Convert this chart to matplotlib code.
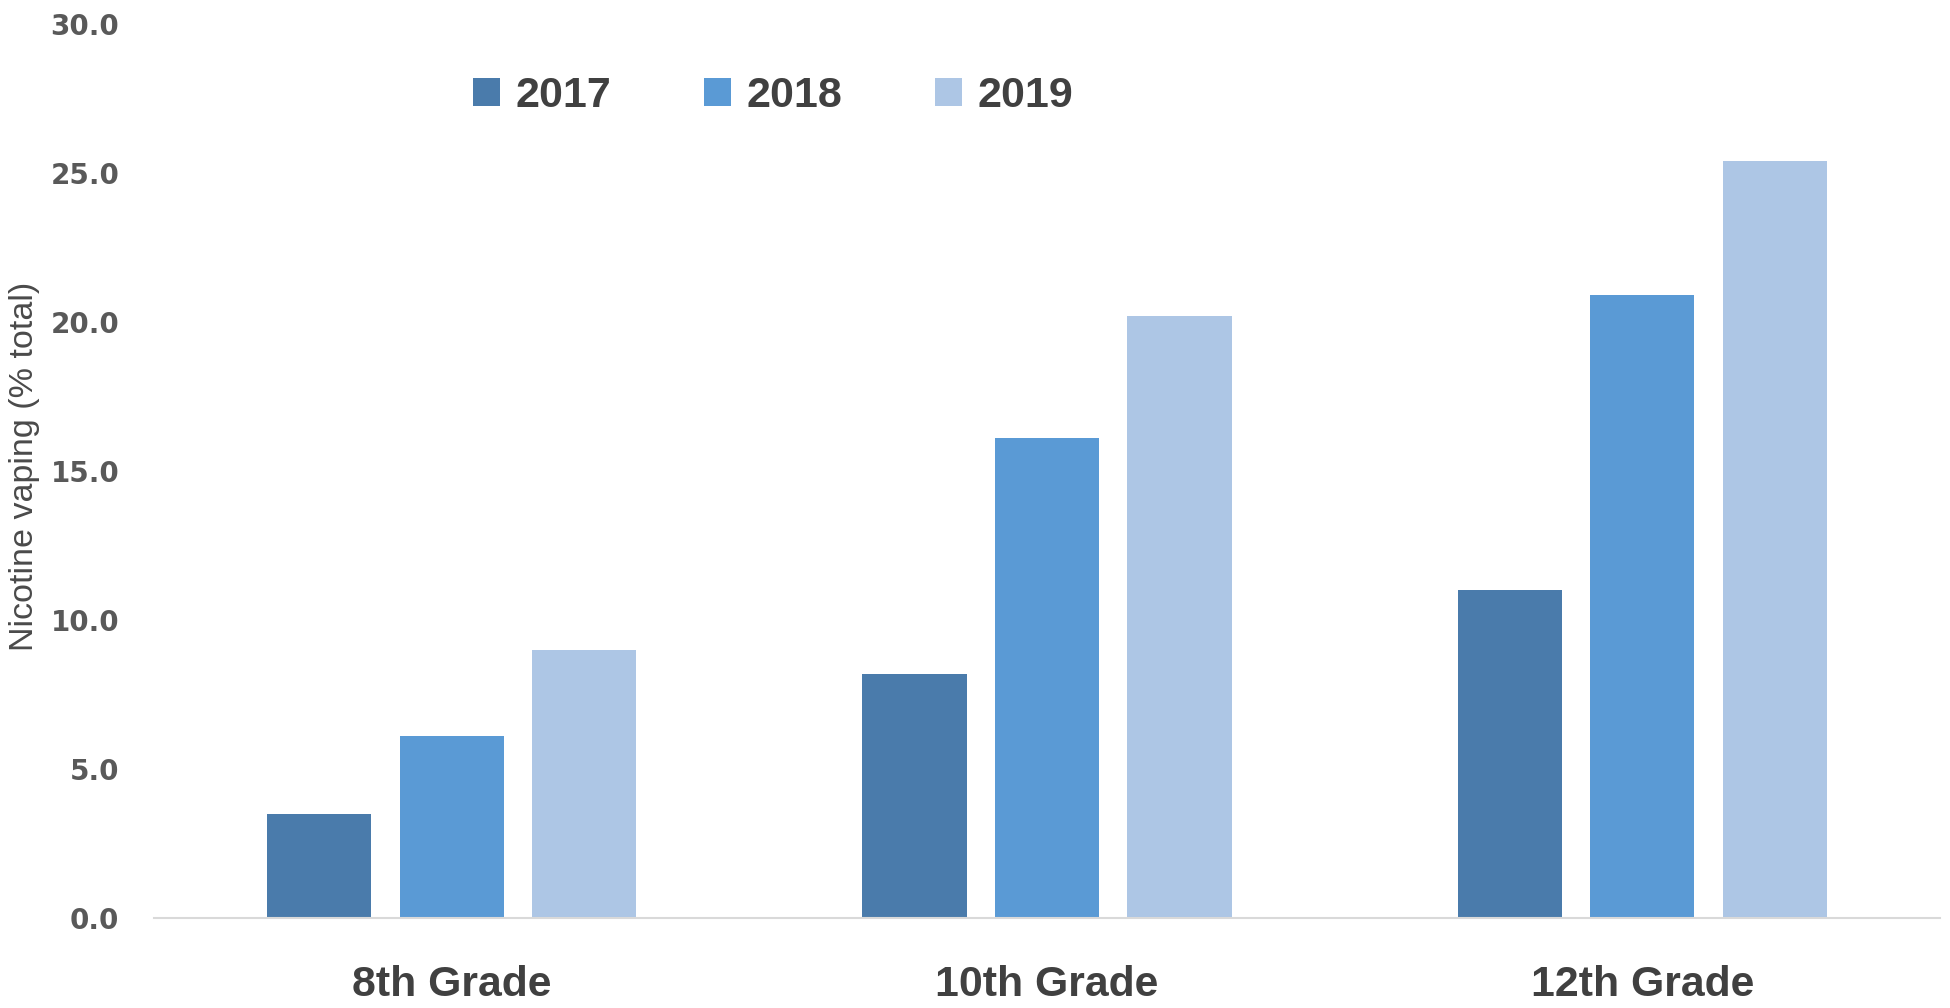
import matplotlib
matplotlib.use("Agg")
import matplotlib.pyplot as plt
import numpy as np

grades = ["8th Grade", "10th Grade", "12th Grade"]
years = ["2017", "2018", "2019"]
vals_2017 = [3.5, 8.2, 11.0]
vals_2018 = [6.1, 16.1, 20.9]
vals_2019 = [9.0, 20.2, 25.4]
series = [vals_2017, vals_2018, vals_2019]
colors = ["#4a7bab", "#5a9ad5", "#adc6e5"]
yticks = [0, 5, 10, 15, 20, 25, 30]

fig = plt.figure(figsize=(19.5, 10.08), dpi=100)
ax = fig.add_axes([154 / 1950, 90 / 1008, 1786 / 1950, 894 / 1008])

x = np.arange(len(grades))
pitch = 0.2225
width = 0.175
for i, (vals, col, yr) in enumerate(zip(series, colors, years)):
    ax.bar(x + (i - 1) * pitch, vals, width=width, color=col, label=yr, zorder=2)

ax.set_xlim(-0.5, 2.5)
ax.set_ylim(0, 30)
ax.set_yticks(yticks)
ax.set_yticklabels([f"{t:.1f}" for t in yticks], fontfamily="DejaVu Sans",
                   fontweight="bold", fontsize=20, color="#595959")
ax.set_xticks(x)
ax.set_xticklabels(grades, fontfamily="Liberation Sans", fontweight="bold",
                   fontsize=30.8, color="#404040")
ax.tick_params(axis="y", length=0, pad=25)
ax.tick_params(axis="x", length=0, pad=34)

for s in ["top", "right", "left"]:
    ax.spines[s].set_visible(False)
ax.spines["bottom"].set_color("#d9d9d9")
ax.spines["bottom"].set_linewidth(1.5)

ax.set_ylabel("Nicotine vaping (% total)", fontfamily="Liberation Sans",
              fontsize=24.5, color="#4a4a4a")
ax.yaxis.set_label_coords(-0.064, 0.505)

leg = ax.legend(loc="center left", bbox_to_anchor=((473 - 154) / 1786, (918 - 96) / 894),
                ncol=3, frameon=False, borderpad=0, borderaxespad=0,
                handlelength=0.63, handleheight=0.63, handletextpad=0.35,
                columnspacing=2.16,
                prop={"family": "Liberation Sans", "weight": "bold", "size": 31})
for t in leg.get_texts():
    t.set_color("#404040")

fig.savefig("out.png", dpi=100, facecolor="white")
